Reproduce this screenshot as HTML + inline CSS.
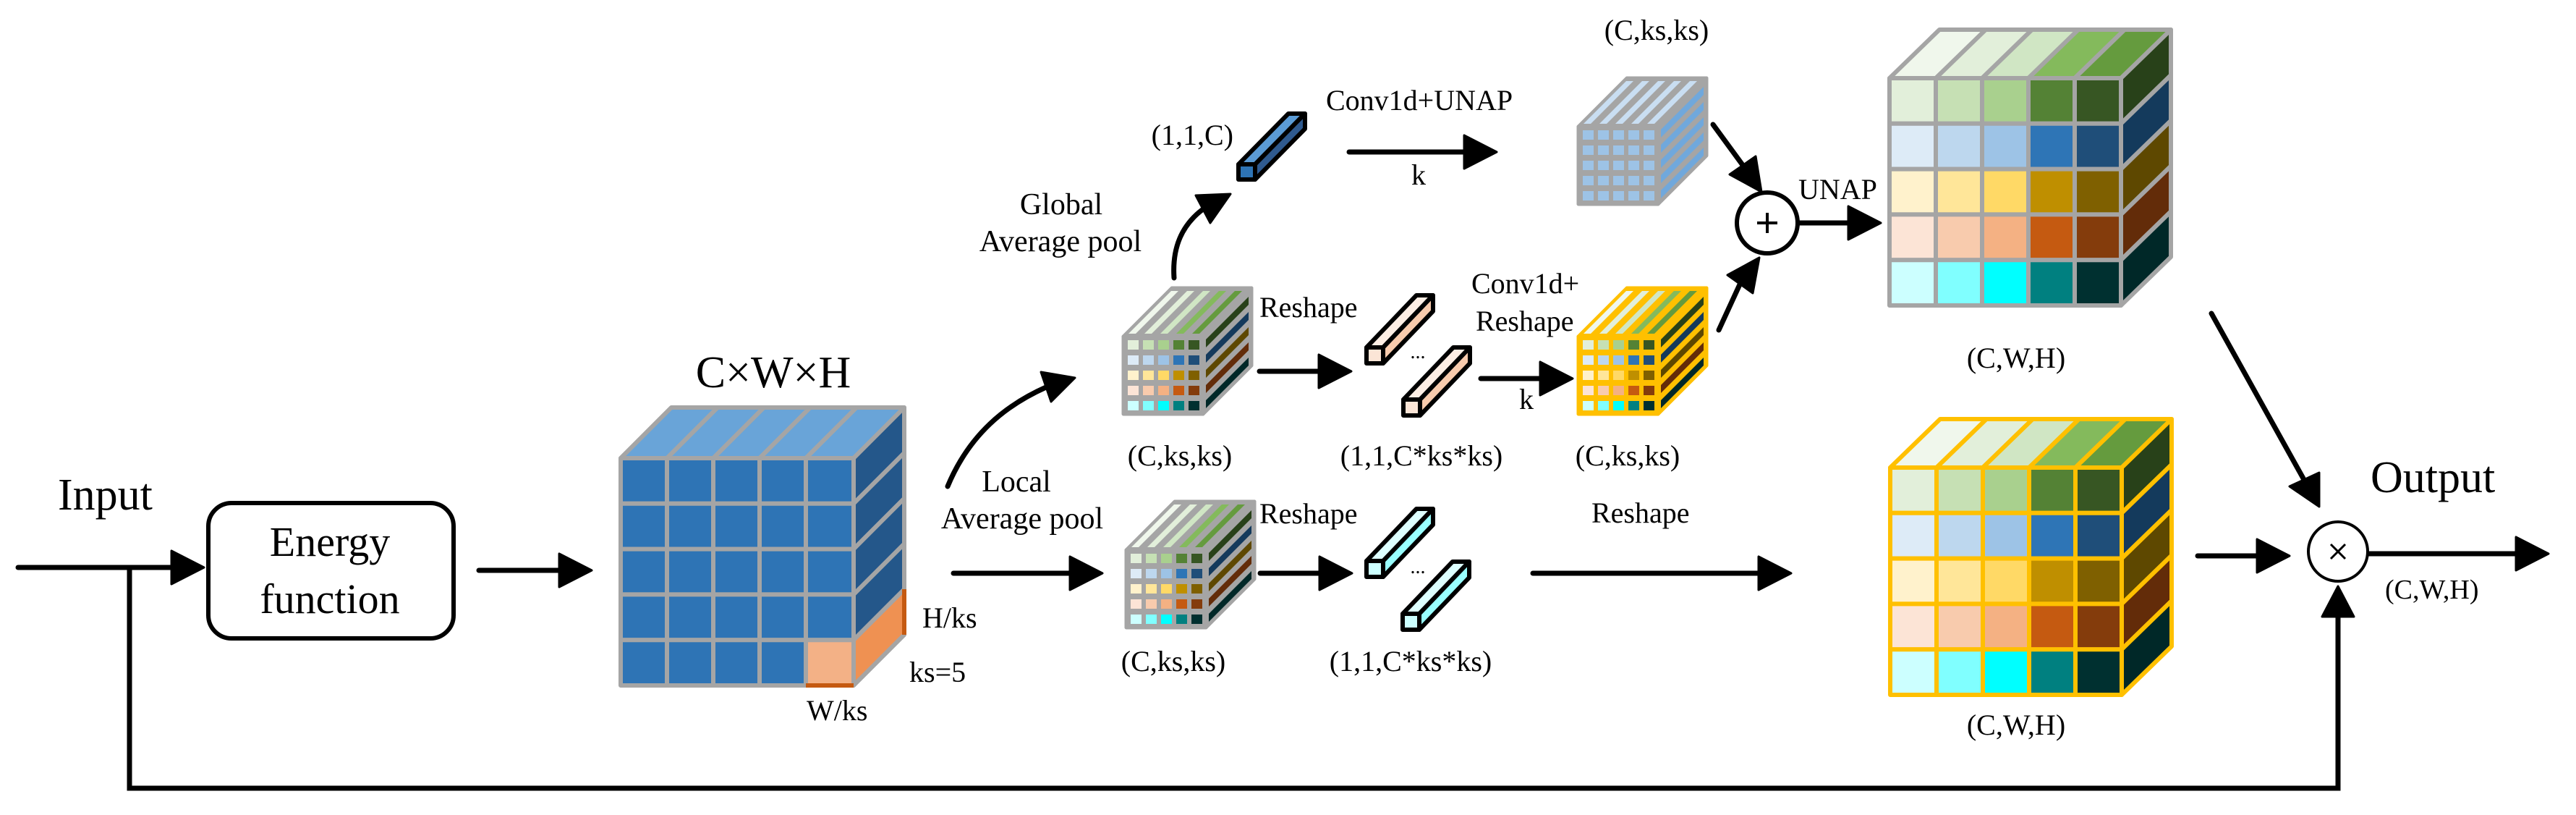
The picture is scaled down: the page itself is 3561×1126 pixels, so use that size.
<!DOCTYPE html>
<html><head><meta charset="utf-8"><style>
html,body{margin:0;padding:0;background:#fff;}
svg{display:block;}
svg text{font-family:"Liberation Serif","Times New Roman",Times,"DejaVu Serif",serif !important;fill:#000;}
</style></head><body>
<svg width="3561" height="1126" viewBox="0 0 3561 1126" xmlns="http://www.w3.org/2000/svg" font-family="Liberation Serif, Times New Roman, DejaVu Serif, serif">
<defs>
<g id="cc" stroke-width="6" stroke-linejoin="round">
  <polygon points="0,0 69,-67 133,-67 64,0" fill="#F0F7EC"/>
  <polygon points="64,0 133,-67 197,-67 128,0" fill="#E2EFDA"/>
  <polygon points="128,0 197,-67 261,-67 192,0" fill="#D0E6C4"/>
  <polygon points="192,0 261,-67 325,-67 256,0" fill="#84BA5C"/>
  <polygon points="256,0 325,-67 389,-67 320,0" fill="#659B3E"/>
  <polygon points="320,0 389,-67 389,-4.2 320,62.8" fill="#284119"/>
  <polygon points="320,62.8 389,-4.2 389,58.6 320,125.6" fill="#143A5C"/>
  <polygon points="320,125.6 389,58.6 389,121.4 320,188.4" fill="#5E4800"/>
  <polygon points="320,188.4 389,121.4 389,184.2 320,251.2" fill="#632C09"/>
  <polygon points="320,251.2 389,184.2 389,247 320,314" fill="#002828"/>
  <rect x="0" y="0" width="64" height="62.8" fill="#E2EFDA"/><rect x="64" y="0" width="64" height="62.8" fill="#C6E0B4"/><rect x="128" y="0" width="64" height="62.8" fill="#A9D08E"/><rect x="192" y="0" width="64" height="62.8" fill="#548235"/><rect x="256" y="0" width="64" height="62.8" fill="#375623"/>
  <rect x="0" y="62.8" width="64" height="62.8" fill="#DDEBF7"/><rect x="64" y="62.8" width="64" height="62.8" fill="#BDD7EE"/><rect x="128" y="62.8" width="64" height="62.8" fill="#9DC3E6"/><rect x="192" y="62.8" width="64" height="62.8" fill="#2E75B6"/><rect x="256" y="62.8" width="64" height="62.8" fill="#1F4E79"/>
  <rect x="0" y="125.6" width="64" height="62.8" fill="#FFF2CC"/><rect x="64" y="125.6" width="64" height="62.8" fill="#FFE699"/><rect x="128" y="125.6" width="64" height="62.8" fill="#FFD966"/><rect x="192" y="125.6" width="64" height="62.8" fill="#BF8F00"/><rect x="256" y="125.6" width="64" height="62.8" fill="#7F6000"/>
  <rect x="0" y="188.4" width="64" height="62.8" fill="#FCE4D6"/><rect x="64" y="188.4" width="64" height="62.8" fill="#F8CBAD"/><rect x="128" y="188.4" width="64" height="62.8" fill="#F4B183"/><rect x="192" y="188.4" width="64" height="62.8" fill="#C55A11"/><rect x="256" y="188.4" width="64" height="62.8" fill="#843C0C"/>
  <rect x="0" y="251.2" width="64" height="62.8" fill="#CCFFFF"/><rect x="64" y="251.2" width="64" height="62.8" fill="#80FFFF"/><rect x="128" y="251.2" width="64" height="62.8" fill="#00FFFF"/><rect x="192" y="251.2" width="64" height="62.8" fill="#008080"/><rect x="256" y="251.2" width="64" height="62.8" fill="#003030"/>
</g>
<g id="sc" stroke="currentColor" stroke-width="5" stroke-linejoin="round">
  <polygon points="0,0 67,-67 177,-67 110,0" fill="currentColor"/>
  <polygon points="110,0 177,-67 177,40 110,107" fill="currentColor"/>
  <rect x="0" y="0" width="110" height="107" fill="currentColor"/>
  <g stroke="none">
    <polygon points="7,-4 66,-63 76,-63 17,-4" fill="#F0F7EC"/>
    <polygon points="29,-4 88,-63 98,-63 39,-4" fill="#E2EFDA"/>
    <polygon points="51,-4 110,-63 120,-63 61,-4" fill="#D0E6C4"/>
    <polygon points="73,-4 132,-63 142,-63 83,-4" fill="#84BA5C"/>
    <polygon points="95,-4 154,-63 164,-63 105,-4" fill="#659B3E"/>
    <polygon points="114,4 173,-55 173,-44 114,15" fill="#284119"/>
    <polygon points="114,25 173,-34 173,-23 114,36" fill="#143A5C"/>
    <polygon points="114,46 173,-13 173,-2 114,57" fill="#5E4800"/>
    <polygon points="114,67 173,8 173,19 114,78" fill="#632C09"/>
    <polygon points="114,88 173,29 173,40 114,99" fill="#002828"/>
    <rect x="6" y="5" width="15" height="13" fill="#E2EFDA"/><rect x="27" y="5" width="15" height="13" fill="#C6E0B4"/><rect x="48" y="5" width="15" height="13" fill="#A9D08E"/><rect x="69" y="5" width="15" height="13" fill="#548235"/><rect x="90" y="5" width="15" height="13" fill="#375623"/>
    <rect x="6" y="26" width="15" height="13" fill="#DDEBF7"/><rect x="27" y="26" width="15" height="13" fill="#BDD7EE"/><rect x="48" y="26" width="15" height="13" fill="#9DC3E6"/><rect x="69" y="26" width="15" height="13" fill="#2E75B6"/><rect x="90" y="26" width="15" height="13" fill="#1F4E79"/>
    <rect x="6" y="47" width="15" height="13" fill="#FFF2CC"/><rect x="27" y="47" width="15" height="13" fill="#FFE699"/><rect x="48" y="47" width="15" height="13" fill="#FFD966"/><rect x="69" y="47" width="15" height="13" fill="#BF8F00"/><rect x="90" y="47" width="15" height="13" fill="#7F6000"/>
    <rect x="6" y="68" width="15" height="13" fill="#FCE4D6"/><rect x="27" y="68" width="15" height="13" fill="#F8CBAD"/><rect x="48" y="68" width="15" height="13" fill="#F4B183"/><rect x="69" y="68" width="15" height="13" fill="#C55A11"/><rect x="90" y="68" width="15" height="13" fill="#843C0C"/>
    <rect x="6" y="89" width="15" height="13" fill="#CCFFFF"/><rect x="27" y="89" width="15" height="13" fill="#80FFFF"/><rect x="48" y="89" width="15" height="13" fill="#00FFFF"/><rect x="69" y="89" width="15" height="13" fill="#008080"/><rect x="90" y="89" width="15" height="13" fill="#003030"/>
  </g>
</g>
<g id="sb" stroke="#A5A5A5" stroke-width="5" stroke-linejoin="round">
  <polygon points="0,0 67,-67 177,-67 110,0" fill="#A5A5A5"/>
  <polygon points="110,0 177,-67 177,40 110,107" fill="#A5A5A5"/>
  <rect x="0" y="0" width="110" height="107" fill="#A5A5A5"/>
  <g stroke="none">
    <polygon points="7,-4 66,-63 76,-63 17,-4" fill="#C9DEF2"/>
    <polygon points="29,-4 88,-63 98,-63 39,-4" fill="#C9DEF2"/>
    <polygon points="51,-4 110,-63 120,-63 61,-4" fill="#C9DEF2"/>
    <polygon points="73,-4 132,-63 142,-63 83,-4" fill="#C9DEF2"/>
    <polygon points="95,-4 154,-63 164,-63 105,-4" fill="#C9DEF2"/>
    <polygon points="114,4 173,-55 173,-44 114,15" fill="#70A8DC"/>
    <polygon points="114,25 173,-34 173,-23 114,36" fill="#70A8DC"/>
    <polygon points="114,46 173,-13 173,-2 114,57" fill="#70A8DC"/>
    <polygon points="114,67 173,8 173,19 114,78" fill="#70A8DC"/>
    <polygon points="114,88 173,29 173,40 114,99" fill="#70A8DC"/>
    <g fill="#9DC3E6">
    <rect x="6" y="5" width="15" height="13"/><rect x="27" y="5" width="15" height="13"/><rect x="48" y="5" width="15" height="13"/><rect x="69" y="5" width="15" height="13"/><rect x="90" y="5" width="15" height="13"/>
    <rect x="6" y="26" width="15" height="13"/><rect x="27" y="26" width="15" height="13"/><rect x="48" y="26" width="15" height="13"/><rect x="69" y="26" width="15" height="13"/><rect x="90" y="26" width="15" height="13"/>
    <rect x="6" y="47" width="15" height="13"/><rect x="27" y="47" width="15" height="13"/><rect x="48" y="47" width="15" height="13"/><rect x="69" y="47" width="15" height="13"/><rect x="90" y="47" width="15" height="13"/>
    <rect x="6" y="68" width="15" height="13"/><rect x="27" y="68" width="15" height="13"/><rect x="48" y="68" width="15" height="13"/><rect x="69" y="68" width="15" height="13"/><rect x="90" y="68" width="15" height="13"/>
    <rect x="6" y="89" width="15" height="13"/><rect x="27" y="89" width="15" height="13"/><rect x="48" y="89" width="15" height="13"/><rect x="69" y="89" width="15" height="13"/><rect x="90" y="89" width="15" height="13"/>
    </g>
  </g>
</g>
<g id="rodP" stroke="#000" stroke-width="6" stroke-linejoin="round">
  <polygon points="0,0 23,0 92,-72 69,-72" fill="#FDEEE4"/>
  <polygon points="23,0 92,-72 92,-50 23,22" fill="#F8CBAD"/>
  <rect x="0" y="0" width="23" height="22" fill="#FBE5D6"/>
</g>
<g id="rodC" stroke="#000" stroke-width="6" stroke-linejoin="round">
  <polygon points="0,0 23,0 92,-72 69,-72" fill="#DDFFFF"/>
  <polygon points="23,0 92,-72 92,-50 23,22" fill="#99FFFF"/>
  <rect x="0" y="0" width="23" height="22" fill="#CCFFFF"/>
</g>
</defs>

<g stroke="#000" stroke-width="7" fill="none" stroke-linecap="round">
  <path d="M25,784 H245"/>
  <path d="M179,784 V1089 H3232 V850"/>
  <path d="M662,788 H780"/>
  <path d="M1318,792 H1485"/>
  <path d="M1623,384 C1620,340 1635,310 1663,289"/>
  <path d="M1310,672 C1340,600 1390,560 1446,535"/>
  <path d="M1741,513 H1830"/>
  <path d="M1742,792 H1830"/>
  <path d="M2047,523 H2135"/>
  <path d="M1865,210 H2030"/>
  <path d="M2119,792 H2437"/>
  <path d="M2368,172 L2409,228"/>
  <path d="M2376,456 L2405,393"/>
  <path d="M2488,308 H2562"/>
  <path d="M3057,433 L3184,661"/>
  <path d="M3038,768 H3127"/>
  <path d="M3273,765 H3485"/>
</g>
<g fill="#000" stroke="#000" stroke-width="3" stroke-linejoin="round">
  <polygon points="282,784 237,761 237,807"/>
  <polygon points="818,788 773,765 773,811"/>
  <polygon points="1524,792 1479,769 1479,815"/>
  <polygon points="1701,268 1653,270 1673,308"/>
  <polygon points="1486,522 1439,514 1453,555"/>
  <polygon points="1868,513 1823,490 1823,536"/>
  <polygon points="1869,792 1824,769 1824,815"/>
  <polygon points="2174,523 2129,500 2129,546"/>
  <polygon points="2069,210 2024,187 2024,233"/>
  <polygon points="2476,792 2431,769 2431,815"/>
  <polygon points="2435,265 2391,241 2427,216"/>
  <polygon points="2432,356 2423,405 2388,380"/>
  <polygon points="2600,308 2555,285 2555,331"/>
  <polygon points="3206,700 3165,672 3206,653"/>
  <polygon points="3165,768 3120,745 3120,791"/>
  <polygon points="3523,765 3478,742 3478,788"/>
  <polygon points="3232,810 3210,852 3254,852"/>
</g>

<rect x="288" y="695" width="339" height="187" rx="32" fill="#fff" stroke="#000" stroke-width="6"/>

<g transform="translate(858,633)" stroke="#A5A5A5" stroke-width="6" stroke-linejoin="round">
  <polygon points="0,0 70,-70 134,-70 64,0" fill="#69A4D8"/>
  <polygon points="64,0 134,-70 198,-70 128,0" fill="#69A4D8"/>
  <polygon points="128,0 198,-70 262,-70 192,0" fill="#69A4D8"/>
  <polygon points="192,0 262,-70 326,-70 256,0" fill="#69A4D8"/>
  <polygon points="256,0 326,-70 392,-70 322,0" fill="#69A4D8"/>
  <polygon points="322,0 392,-70 392,-7.2 322,62.8" fill="#24578A"/>
  <polygon points="322,62.8 392,-7.2 392,55.6 322,125.6" fill="#24578A"/>
  <polygon points="322,125.6 392,55.6 392,118.4 322,188.4" fill="#24578A"/>
  <polygon points="322,188.4 392,118.4 392,181.2 322,251.2" fill="#24578A"/>
  <polygon points="322,251.2 392,181.2 392,244 322,314" fill="#EF9152"/>
  <g fill="#2E74B5">
  <rect x="0" y="0" width="64" height="62.8"/><rect x="64" y="0" width="64" height="62.8"/><rect x="128" y="0" width="64" height="62.8"/><rect x="192" y="0" width="64" height="62.8"/><rect x="256" y="0" width="66" height="62.8"/>
  <rect x="0" y="62.8" width="64" height="62.8"/><rect x="64" y="62.8" width="64" height="62.8"/><rect x="128" y="62.8" width="64" height="62.8"/><rect x="192" y="62.8" width="64" height="62.8"/><rect x="256" y="62.8" width="66" height="62.8"/>
  <rect x="0" y="125.6" width="64" height="62.8"/><rect x="64" y="125.6" width="64" height="62.8"/><rect x="128" y="125.6" width="64" height="62.8"/><rect x="192" y="125.6" width="64" height="62.8"/><rect x="256" y="125.6" width="66" height="62.8"/>
  <rect x="0" y="188.4" width="64" height="62.8"/><rect x="64" y="188.4" width="64" height="62.8"/><rect x="128" y="188.4" width="64" height="62.8"/><rect x="192" y="188.4" width="64" height="62.8"/><rect x="256" y="188.4" width="66" height="62.8"/>
  <rect x="0" y="251.2" width="64" height="62.8"/><rect x="64" y="251.2" width="64" height="62.8"/><rect x="128" y="251.2" width="64" height="62.8"/><rect x="192" y="251.2" width="64" height="62.8"/>
  </g>
  <rect x="256" y="251.2" width="66" height="62.8" fill="#F3B186"/>
  <path d="M256,314 H322" stroke="#C55A11" stroke-width="6"/>
  <path d="M392,181 V244" stroke="#C55A11" stroke-width="6"/>
</g>

<use href="#sc" x="1553" y="465" style="color:#A5A5A5"/>
<use href="#sc" x="1557" y="760" style="color:#A5A5A5"/>
<use href="#sc" x="2182" y="465" style="color:#FFC000"/>
<use href="#sb" x="2182" y="175"/>

<use href="#cc" x="2612" y="108" stroke="#A5A5A5"/>
<use href="#cc" x="2613" y="646" stroke="#FFC000"/>

<g stroke="#000" stroke-width="6" stroke-linejoin="round">
  <polygon points="1712,227 1735,227 1804,157 1781,157" fill="#5B9BD5"/>
  <polygon points="1735,227 1804,157 1804,178 1735,248" fill="#2F5A8F"/>
  <rect x="1712" y="227" width="23" height="21" fill="#2E74B5"/>
</g>
<use href="#rodP" x="1889" y="480"/>
<use href="#rodP" x="1940" y="552"/>
<use href="#rodC" x="1889" y="775"/>
<use href="#rodC" x="1939" y="848"/>

<circle cx="2443" cy="308" r="42" fill="#fff" stroke="#000" stroke-width="6"/>
<path d="M2429,308 H2457 M2443,294 V322" stroke="#000" stroke-width="4"/>
<circle cx="3232" cy="762" r="41" fill="#fff" stroke="#000" stroke-width="4"/>
<path d="M3222,752 L3242,772 M3242,752 L3222,772" stroke="#000" stroke-width="3"/>

<g font-family="Liberation Serif, Times New Roman, DejaVu Serif, serif">
<text x="80" y="704" font-size="62">Input</text>
<text x="456" y="768" font-size="58" text-anchor="middle">Energy</text>
<text x="456" y="847" font-size="58" text-anchor="middle">function</text>
<text x="1069" y="535" font-size="62" text-anchor="middle">C×W×H</text>
<text x="1275" y="867" font-size="40">H/ks</text>
<text x="1257" y="942" font-size="40">ks=5</text>
<text x="1115" y="995" font-size="40">W/ks</text>
<text x="1405" y="679" font-size="42" text-anchor="middle">Local</text>
<text x="1413" y="730" font-size="42" text-anchor="middle">Average pool</text>
<text x="1467" y="296" font-size="42" text-anchor="middle">Global</text>
<text x="1466" y="347" font-size="42" text-anchor="middle">Average pool</text>
<text x="1705" y="200" font-size="40" text-anchor="end">(1,1,C)</text>
<text x="1833" y="152" font-size="40">Conv1d+UNAP</text>
<text x="1951" y="255" font-size="40">k</text>
<text x="2290" y="55" font-size="40" text-anchor="middle">(C,ks,ks)</text>
<text x="2486" y="275" font-size="40">UNAP</text>
<text x="2787" y="508" font-size="40" text-anchor="middle">(C,W,H)</text>
<text x="2787" y="1015" font-size="40" text-anchor="middle">(C,W,H)</text>
<text x="1631" y="643" font-size="40" text-anchor="middle">(C,ks,ks)</text>
<text x="2250" y="643" font-size="40" text-anchor="middle">(C,ks,ks)</text>
<text x="1622" y="927" font-size="40" text-anchor="middle">(C,ks,ks)</text>
<text x="1741" y="438" font-size="40">Reshape</text>
<text x="1741" y="723" font-size="40">Reshape</text>
<text x="1960" y="495" font-size="28" text-anchor="middle">...</text>
<text x="1960" y="792" font-size="28" text-anchor="middle">...</text>
<text x="1965" y="643" font-size="40" text-anchor="middle">(1,1,C*ks*ks)</text>
<text x="1950" y="927" font-size="40" text-anchor="middle">(1,1,C*ks*ks)</text>
<text x="2034" y="405" font-size="40">Conv1d+</text>
<text x="2040" y="457" font-size="40">Reshape</text>
<text x="2100" y="565" font-size="40">k</text>
<text x="2200" y="722" font-size="40">Reshape</text>
<text x="3277" y="680" font-size="62">Output</text>
<text x="3297" y="827" font-size="38">(C,W,H)</text>
</g>
</svg>
</body></html>
